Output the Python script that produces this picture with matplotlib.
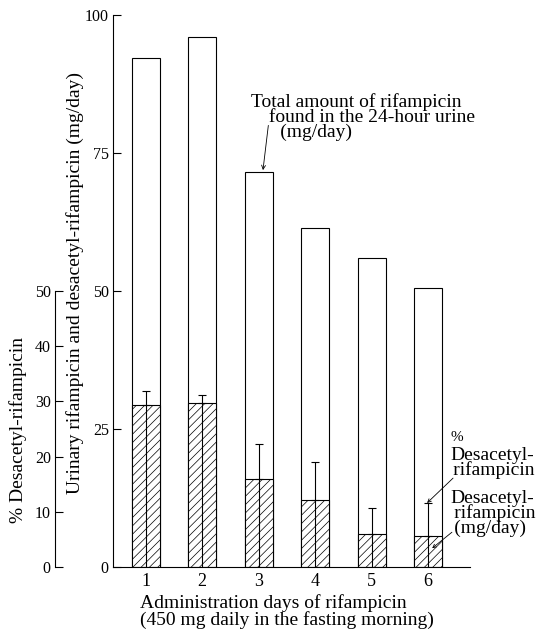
import matplotlib
matplotlib.use("Agg")
import matplotlib.pyplot as plt

# Data
days = [1, 2, 3, 4, 5, 6]
total_mg = [92.3, 96.0, 71.6, 61.4, 56.0, 50.5]
desacetyl_mg = [29.3, 29.8, 15.9, 12.1, 6.0, 5.6]
desacetyl_err_top = [31.9, 31.2, 22.3, 19.0, 10.7, 11.6]
main_ticks = [0, 25, 50, 75, 100]
pct_ticks = [0, 10, 20, 30, 40, 50]

plt.rcParams["font.family"] = ["Liberation Serif", "DejaVu Serif"]
plt.rcParams["hatch.linewidth"] = 0.5

W, H = 536, 631
fig = plt.figure(figsize=(W / 100, H / 100), dpi=100)
FS = 14

# Main axis (mg/day)
ax = fig.add_axes([113 / W, 64 / H, 357 / W, 552 / H])
ax.bar(days, total_mg, width=0.5, color="white", edgecolor="black", linewidth=0.8)
ax.bar(days, desacetyl_mg, width=0.5, color="white", edgecolor="black",
       linewidth=0.8, hatch="////")
err = [t - v for t, v in zip(desacetyl_err_top, desacetyl_mg)]
ax.errorbar(days, desacetyl_mg, yerr=[[0] * 6, err], fmt="none", ecolor="black",
            elinewidth=0.8, capsize=2.7, capthick=0.8)
ax.vlines(days, 0, desacetyl_mg, color="black", linewidth=0.8)

ax.set_xlim(0.42, 6.74)
ax.set_ylim(0, 100)
ax.set_xticks(days)
ax.set_yticks(main_ticks)
ax.tick_params(axis="y", direction="in", length=6, width=0.8, labelsize=11.5, pad=3)
ax.tick_params(axis="x", length=0, labelsize=13, pad=4)
for s in ["top", "right"]:
    ax.spines[s].set_visible(False)
ax.spines["left"].set_linewidth(0.8)
ax.spines["bottom"].set_linewidth(0.8)

# Annotation: total amount (va=baseline -> last line)
ax.text(2.86, 77.9,
        "Total amount of rifampicin\n   \u2006found in the 24-hour urine\n      (mg/day)",
        fontsize=FS, va="baseline", linespacing=0.82)
ax.annotate("", xy=(3.075, 71.9), xytext=(3.17, 80.0),
            arrowprops=dict(arrowstyle="->", color="black", lw=0.6,
                            shrinkA=0, shrinkB=0, mutation_scale=7))

# Annotation: % desacetyl-rifampicin
ax.text(6.386, 22.8, "%", fontsize=11, va="baseline")
ax.text(6.386, 16.7, "Desacetyl-\n\u2006rifampicin", fontsize=FS, va="baseline",
        linespacing=0.78)
ax.annotate("", xy=(5.98, 11.6), xytext=(6.44, 16.1),
            arrowprops=dict(arrowstyle="->", color="black", lw=0.6,
                            shrinkA=0, shrinkB=0, mutation_scale=6))

# Annotation: desacetyl-rifampicin mg/day
ax.text(6.40, 6.2, "Desacetyl-\n\u2006rifampicin\n\u2006(mg/day)", fontsize=FS,
        va="baseline", linespacing=0.82)
ax.annotate("", xy=(6.07, 3.4), xytext=(6.42, 6.3),
            arrowprops=dict(arrowstyle="->", color="black", lw=0.6,
                            shrinkA=0, shrinkB=0, mutation_scale=6))

# Second axis (% desacetyl-rifampicin)
ax2 = fig.add_axes([55 / W, 64 / H, 0.001, 276 / H])
ax2.set_ylim(0, 50)
ax2.set_yticks(pct_ticks)
ax2.set_xticks([])
for s in ["top", "right", "bottom"]:
    ax2.spines[s].set_visible(False)
ax2.spines["left"].set_linewidth(0.8)
ax2.patch.set_visible(False)
ax2.tick_params(axis="y", direction="in", length=6, width=0.8, labelsize=11.5, pad=3)

# Axis titles
fig.text(75 / W, 1 - 283 / H, "Urinary rifampicin and desacetyl-rifampicin (mg/day)",
         rotation=90, ha="center", va="center", fontsize=FS)
fig.text(18 / W, 1 - 430 / H, "% Desacetyl-rifampicin",
         rotation=90, ha="center", va="center", fontsize=FS)
fig.text(140 / W, 1 - 625 / H,
         "Administration days of rifampicin\n(450 mg daily in the fasting morning)",
         ha="left", va="baseline", fontsize=FS, linespacing=0.92)

fig.savefig("out.png", dpi=100)
